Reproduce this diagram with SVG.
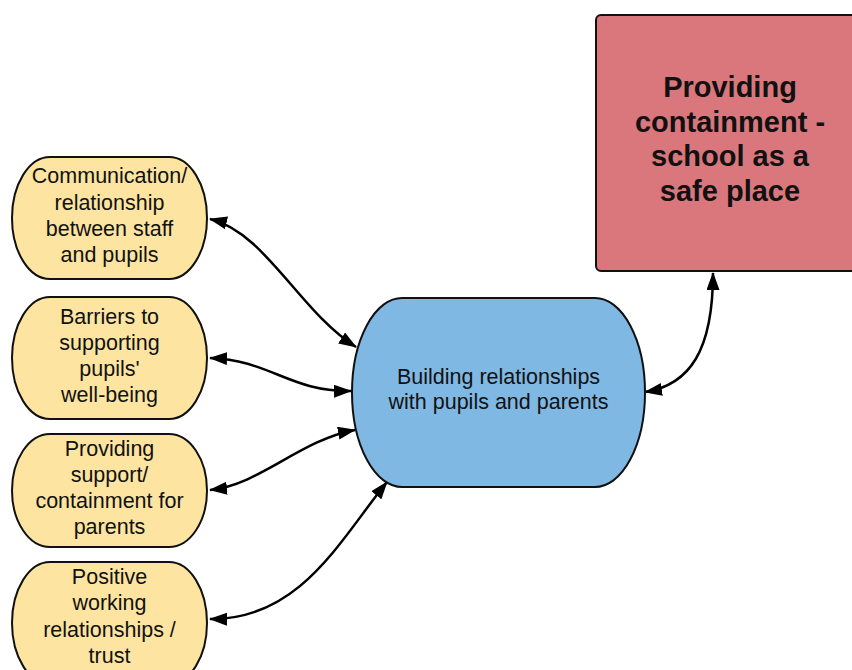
<svg xmlns="http://www.w3.org/2000/svg" width="852" height="670" viewBox="0 0 852 670">
<defs>
<style>
.y{fill:#fde5a1;stroke:#111;stroke-width:2}
.b{fill:#80b8e4;stroke:#111;stroke-width:2}
.r{fill:#d9777d;stroke:#111;stroke-width:2}
.t{font-family:"Liberation Sans",Arial,sans-serif;font-size:21.5px;fill:#111;text-anchor:middle}
.tb{font-family:"Liberation Sans",Arial,sans-serif;font-size:29px;font-weight:bold;fill:#111;text-anchor:middle}
.c{fill:none;stroke:#000;stroke-width:2.5;marker-start:url(#ah);marker-end:url(#ah)}
</style>
<marker id="ah" markerUnits="userSpaceOnUse" markerWidth="20" markerHeight="14" refX="17" refY="6.5" orient="auto-start-reverse" viewBox="0 0 20 14">
<path d="M0,0 L18,6.5 L0,13 z" fill="#000"/>
</marker>
</defs>
<rect width="852" height="670" fill="#fff"/>
<g id="connectors">
<path class="c" d="M210,219 C265,232 300,312 356,347"/>
<path class="c" d="M210,358 C270,360 290,392 351,391"/>
<path class="c" d="M210,490 C260,485 300,440 355,430"/>
<path class="c" d="M210,619 C300,620 340,540 387,482"/>
<path class="c" d="M645,392 C690,385 713,350 713,273"/>
</g>
<g id="red">
<rect class="r" x="596" y="15" width="270" height="256" rx="5" ry="5"/>
<text class="tb" x="730" y="97">Providing</text>
<text class="tb" x="730" y="131.5">containment -</text>
<text class="tb" x="730" y="166">school as a</text>
<text class="tb" x="730" y="200.5">safe place</text>
</g>
<g id="blue">
<rect class="b" x="352" y="298" width="293" height="189" rx="50" ry="94.5"/>
<text class="t" x="498.5" y="384.3">Building relationships</text>
<text class="t" x="498.5" y="409">with pupils and parents</text>
</g>
<g id="n1">
<rect class="y" x="12" y="157" width="195" height="122" rx="38" ry="61"/>
<text class="t" x="109.5" y="183.3">Communication/</text>
<text class="t" x="109.5" y="209.5">relationship</text>
<text class="t" x="109.5" y="235.7">between staff</text>
<text class="t" x="109.5" y="262">and pupils</text>
</g>
<g id="n2">
<rect class="y" x="12" y="297" width="195" height="122" rx="38" ry="61"/>
<text class="t" x="109.5" y="323.5">Barriers to</text>
<text class="t" x="109.5" y="349.6">supporting</text>
<text class="t" x="109.5" y="375.7">pupils'</text>
<text class="t" x="109.5" y="401.8">well-being</text>
</g>
<g id="n3">
<rect class="y" x="12" y="434" width="195" height="113" rx="38" ry="56.5"/>
<text class="t" x="109.5" y="455.7">Providing</text>
<text class="t" x="109.5" y="481.8">support/</text>
<text class="t" x="109.5" y="507.9">containment for</text>
<text class="t" x="109.5" y="534">parents</text>
</g>
<g id="n4">
<rect class="y" x="12" y="562" width="195" height="122" rx="38" ry="61"/>
<text class="t" x="109.5" y="584.3">Positive</text>
<text class="t" x="109.5" y="610.4">working</text>
<text class="t" x="109.5" y="636.5">relationships /</text>
<text class="t" x="109.5" y="662.6">trust</text>
</g>
</svg>
